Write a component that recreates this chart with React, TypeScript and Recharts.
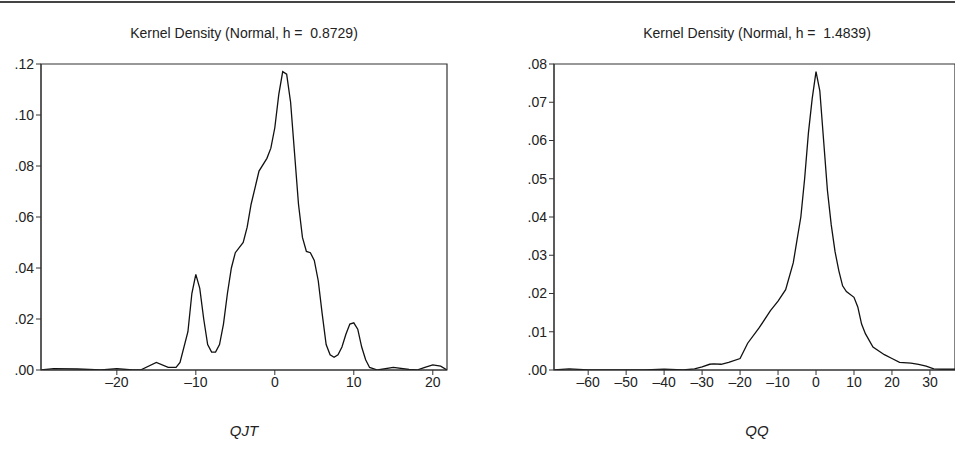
import { LineChart, Line, XAxis, YAxis, ReferenceArea } from "recharts"

const qjtX = [-29.6, -28, -25, -22, -20, -18, -17, -15, -13.5, -12.5, -12, -11, -10.5, -10, -9.5, -9, -8.5, -8, -7.5, -7, -6.5, -6, -5.5, -5, -4, -3.5, -3, -2, -1, -0.5, 0, 0.5, 1, 1.5, 2, 2.5, 3, 3.5, 4, 4.5, 5, 5.5, 6, 6.5, 7, 7.5, 8, 8.5, 9, 9.5, 10, 10.5, 11, 11.5, 12, 13, 15, 17, 18, 19, 20, 21, 21.8]
const qjtY = [0, 0.0005, 0.0004, 0, 0.0005, 0, 0, 0.003, 0.001, 0.001, 0.003, 0.015, 0.03, 0.0375, 0.032, 0.02, 0.01, 0.007, 0.007, 0.01, 0.018, 0.03, 0.04, 0.046, 0.05, 0.056, 0.065, 0.078, 0.083, 0.087, 0.095, 0.108, 0.117, 0.116, 0.105, 0.085, 0.065, 0.052, 0.0465, 0.046, 0.043, 0.035, 0.022, 0.01, 0.006, 0.005, 0.006, 0.009, 0.014, 0.018, 0.0185, 0.016, 0.009, 0.004, 0.001, 0, 0.001, 0.0002, 0, 0.001, 0.002, 0.0015, 0]

const qqX = [-69, -65, -60, -45, -40, -35, -32, -30, -28, -27, -25, -23, -20, -18, -15, -12, -10, -8, -6, -5, -4, -3, -2, -1, 0, 1, 2, 3, 4, 5, 6, 7, 8, 10, 11, 12, 13, 15, 18, 20, 22, 25, 27, 29, 31, 33, 37]
const qqY = [0, 0.0003, 0, 0, 0.0002, 0, 0.0003, 0.0008, 0.0015, 0.0016, 0.0015, 0.002, 0.003, 0.007, 0.011, 0.0155, 0.018, 0.021, 0.028, 0.034, 0.04, 0.05, 0.062, 0.071, 0.078, 0.073, 0.06, 0.047, 0.038, 0.031, 0.026, 0.022, 0.0205, 0.019, 0.0165, 0.012, 0.0095, 0.006, 0.004, 0.003, 0.002, 0.0018, 0.0015, 0.001, 0.0003, 0.0002, 0.0002]

const qjtXTicks = [-20, -10, 0, 10, 20]
const qjtYTicks = [0, 0.02, 0.04, 0.06, 0.08, 0.1, 0.12]
const qqXTicks = [-60, -50, -40, -30, -20, -10, 0, 10, 20, 30]
const qqYTicks = [0, 0.01, 0.02, 0.03, 0.04, 0.05, 0.06, 0.07, 0.08]

const font = "'Liberation Sans', Arial, sans-serif"
const tickStyle = { fill: "#222", fontSize: 14, fontFamily: font }
const fmtY = (v: number) => v.toFixed(2).replace(/^0/, "")
const fmtX = (v: number) => (v < 0 ? "\u2013" + Math.abs(v) : String(v))

interface PanelProps {
  left: number
  width: number
  yWidth: number
  right: number
  xs: number[]
  ys: number[]
  xDomain: [number, number]
  yMax: number
  xTicks: number[]
  yTicks: number[]
  title: string
  label: string
  center: number
}

const Panel = (p: PanelProps) => {
  const data = p.xs.map((x, i) => ({ x, y: p.ys[i] }))
  return (
    <div style={{ position: "absolute", left: p.left, top: 0, width: p.width, height: 451 }}>
      <LineChart width={p.width} height={451} data={data} margin={{ top: 64, right: p.right, left: 0, bottom: 51 }}>
        <XAxis dataKey="x" type="number" domain={p.xDomain} ticks={p.xTicks} tickFormatter={fmtX} allowDataOverflow
          stroke="#333" tick={tickStyle} tickSize={5} height={30} />
        <YAxis domain={[0, p.yMax]} ticks={p.yTicks} tickFormatter={fmtY} stroke="#333" tick={tickStyle} tickSize={5} width={p.yWidth} allowDataOverflow />
        <ReferenceArea x1={p.xDomain[0]} x2={p.xDomain[1]} y1={0} y2={p.yMax} fill="none" stroke="#333" strokeWidth={1.2} ifOverflow="visible" />
        <Line dataKey="y" type="linear" stroke="#111" strokeWidth={1.3} dot={false} isAnimationActive={false} />
      </LineChart>
      <div style={{ position: "absolute", top: 25, left: p.center - 160, width: 320, textAlign: "center", fontFamily: font, fontSize: 14, color: "#222", whiteSpace: "pre" }}>{p.title}</div>
      <div style={{ position: "absolute", top: 422, left: p.center - 50, width: 100, textAlign: "center", fontFamily: font, fontSize: 15, fontStyle: "italic", color: "#222" }}>{p.label}</div>
    </div>
  )
}

const App = () => (
  <div style={{ position: "absolute", left: 0, top: 0, width: 955, height: 451, background: "#fff", overflow: "hidden" }}>
    <div style={{ position: "absolute", left: 0, top: 1, width: 955, height: 2, background: "#444" }} />
    <Panel left={0} width={480} yWidth={41} right={33} xs={qjtX} ys={qjtY} xDomain={[-29.6, 21.8]} yMax={0.12}
      xTicks={qjtXTicks} yTicks={qjtYTicks} title="Kernel Density (Normal, h =  0.8729)" label="QJT" center={244} />
    <Panel left={475} width={480} yWidth={79} right={0} xs={qqX} ys={qqY} xDomain={[-69, 36.6]} yMax={0.08}
      xTicks={qqXTicks} yTicks={qqYTicks} title="Kernel Density (Normal, h =  1.4839)" label="QQ" center={282} />
  </div>
)

export default App
